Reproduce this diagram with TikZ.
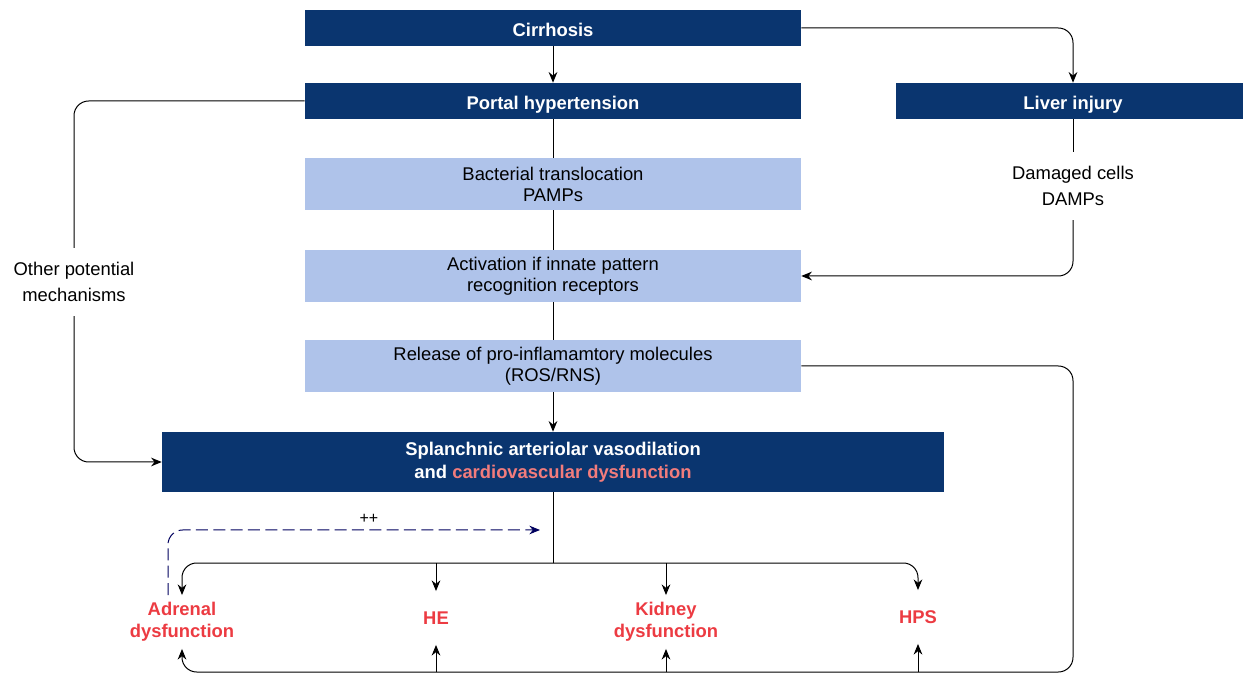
\documentclass[tikz,border=0pt]{standalone}
\usepackage{fontspec}
\setmainfont{Liberation Sans}
\usetikzlibrary{arrows.meta}

\definecolor{azulosc}{HTML}{0A356F}
\definecolor{azulclaro}{HTML}{AFC3EA}
\definecolor{salmon}{HTML}{F27C7C}
\definecolor{rojoet}{HTML}{EC3B42}
\definecolor{azuldisc}{HTML}{00005E}

\tikzset{
  caja/.style={fill=azulosc, text=white, inner sep=0pt, align=center,
    minimum width=372pt, minimum height=27pt,
    font=\fontsize{13.8}{17.25}\selectfont\bfseries},
  cajauna/.style={caja, text height=13pt, text depth=0pt},
  cajaclara/.style={fill=azulclaro, inner sep=0pt, align=center,
    minimum width=372pt, minimum height=39pt,
    font=\fontsize{13.8}{15.75}\selectfont},
  texto/.style={align=center, inner xsep=2pt, inner ysep=10.5pt,
    font=\fontsize{13.8}{19.5}\selectfont},
  etiqueta/.style={text=rojoet, align=center, inner sep=0pt,
    minimum height=40pt, font=\fontsize{13.8}{16.5}\selectfont\bfseries},
  linea/.style={line width=0.75pt, rounded corners=11pt},
  flecha/.style={linea, -{Stealth[length=8pt,width=6.5pt]}},
  discont/.style={flecha, azuldisc, dash pattern=on 9pt off 4pt}
}

\begin{document}
\begin{tikzpicture}[x=0.75pt, y=-0.75pt]
    % Marco del dibujo
    \useasboundingbox (0,0) rectangle (1243,673);

    % Cajas principales (azul oscuro)
    \node[cajauna] (cirr) at (553,28) {Cirrhosis};
    \node[cajauna] (portal) at (553,101) {Portal hypertension};
    \node[cajauna, minimum width=265.5pt] (liver) at (1073,101) {Liver injury};

    % Cajas intermedias (azul claro)
    \node[cajaclara] (bact) at (553,184) {Bacterial translocation\\PAMPs};
    \node[cajaclara] (activ) at (553,276) {Activation if innate pattern\\recognition receptors};
    \node[cajaclara] (release) at (553,366) {Release of pro-inflamamtory molecules\\(ROS/RNS)};

    % Caja grande
    \node[caja, minimum width=586.5pt, minimum height=45pt] (splan) at (553,462)
        {Splanchnic arteriolar vasodilation\\and \textcolor{salmon}{cardiovascular dysfunction}};

    % Textos sueltos
    \node[texto] (damp) at (1073,186) {Damaged cells\\DAMPs};
    \node[texto] (otros) at (74,282) {Other potential\\mechanisms};

    % Etiquetas rojas de abajo
    \node[etiqueta] (adrenal) at (182,622) {Adrenal\\dysfunction};
    \node[etiqueta] (he) at (436,618) {HE};
    \node[etiqueta] (kidney) at (666,622) {Kidney\\dysfunction};
    \node[etiqueta] (hps) at (918,617) {HPS};

    % Puntos auxiliares
    \coordinate (rama) at (553,563);
    \coordinate (abajo) at (1073,672);
    \coordinate (masmas) at (540,530);

    % Cadena central
    \draw[flecha] (cirr) -- (portal);
    \draw[linea] (portal) -- (bact);
    \draw[linea] (bact) -- (activ);
    \draw[linea] (activ) -- (release);
    \draw[flecha] (release) -- (splan);

    % Rama del higado
    \draw[flecha] (cirr.east) -| (liver.north);
    \draw[linea] (liver) -- (damp);
    \draw[flecha] (damp.south) |- (activ.east);

    % Otros mecanismos
    \draw[linea] (portal.west) -| (otros.north);
    \draw[flecha] (otros.south) |- (splan.west);

    % Reparto hacia los organos
    \draw[linea] (splan.south) -- (rama);
    \draw[flecha] (rama) -| (adrenal.north);
    \draw[flecha] (rama) -| (hps.north);
    \draw[flecha] (he.north |- rama) -- (he.north);
    \draw[flecha] (kidney.north |- rama) -- (kidney.north);

    % Retorno desde las moleculas
    \draw[flecha] (release.east) -| (abajo) -| (adrenal.south);
    \draw[flecha] (he.south |- abajo) -- (he.south);
    \draw[flecha] (kidney.south |- abajo) -- (kidney.south);
    \draw[flecha] (hps.south |- abajo) -- (hps.south);

    % Flecha discontinua
    \draw[discont] ([xshift=-10.5pt]adrenal.north) |- node[pos=0.77, above=1pt, text=black,
        font=\fontsize{12}{14}\selectfont] {++} (masmas);
\end{tikzpicture}
\end{document}
